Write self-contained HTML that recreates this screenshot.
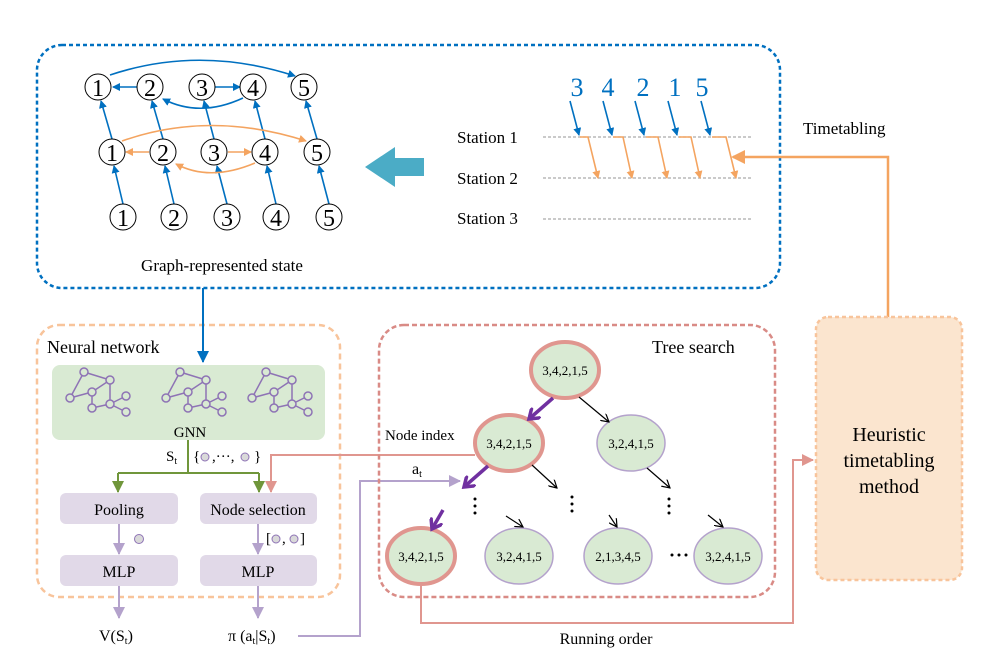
<!DOCTYPE html>
<html><head><meta charset="utf-8"><style>html,body{margin:0;padding:0;background:#fff}svg{display:block}</style></head>
<body>
<svg width="996" height="663" viewBox="0 0 996 663" xmlns="http://www.w3.org/2000/svg" font-family="Liberation Serif, serif">
<defs>
<marker id="ab" markerWidth="8" markerHeight="8" refX="7" refY="4" orient="auto" markerUnits="userSpaceOnUse"><path d="M0,0 L8,4 L0,8 z" fill="#0070c0"/></marker>
<marker id="ao" markerWidth="8" markerHeight="8" refX="7" refY="4" orient="auto" markerUnits="userSpaceOnUse"><path d="M0,0 L8,4 L0,8 z" fill="#f4a460"/></marker>
<marker id="aob" markerWidth="14" markerHeight="14" refX="12" refY="7" orient="auto" markerUnits="userSpaceOnUse"><path d="M0,0 L14,7 L0,14 z" fill="#f4a460"/></marker>
<marker id="ag" markerWidth="12" markerHeight="12" refX="11" refY="6" orient="auto" markerUnits="userSpaceOnUse"><path d="M0,0 L12,6 L0,12 z" fill="#70963b"/></marker>
<marker id="ap" markerWidth="12" markerHeight="12" refX="11" refY="6" orient="auto" markerUnits="userSpaceOnUse"><path d="M0,0 L12,6 L0,12 z" fill="#b4a2cc"/></marker>
<marker id="ar" markerWidth="12" markerHeight="12" refX="11" refY="6" orient="auto" markerUnits="userSpaceOnUse"><path d="M0,0 L12,6 L0,12 z" fill="#e0968f"/></marker>
<marker id="abl" markerWidth="12" markerHeight="12" refX="11" refY="6" orient="auto" markerUnits="userSpaceOnUse"><path d="M0,0 L12,6 L0,12 z" fill="#0070c0"/></marker>
<marker id="ak" markerWidth="9" markerHeight="9" refX="8" refY="4.5" orient="auto" markerUnits="userSpaceOnUse"><path d="M0,0 L8,4.5 L0,9" fill="none" stroke="#000" stroke-width="1.2"/></marker>
<marker id="av" markerWidth="14" markerHeight="14" refX="10" refY="7" orient="auto" markerUnits="userSpaceOnUse"><path d="M0,0 L10,7 L0,14" fill="none" stroke="#7030a0" stroke-width="3.5"/></marker>
</defs>

<!-- top blue box -->
<rect x="37" y="45" width="743" height="243" rx="25" fill="none" stroke="#0070c0" stroke-width="2.5" stroke-dasharray="4,3"/>

<!-- graph edges -->
<g stroke="#0070c0" stroke-width="1.6" fill="none" marker-end="url(#ab)">
<path d="M110,75 Q200,45 295,76"/>
<line x1="137" y1="87" x2="113" y2="87"/>
<line x1="215" y1="87" x2="240" y2="87"/>
<path d="M243,98 Q200,118 163,99"/>
<line x1="123" y1="204" x2="114" y2="166"/>
<line x1="174" y1="204" x2="165" y2="166"/>
<line x1="227" y1="204" x2="217" y2="166"/>
<line x1="276" y1="204" x2="267" y2="166"/>
<line x1="329" y1="204" x2="319" y2="166"/>
<line x1="112" y1="139" x2="101" y2="101"/>
<line x1="163" y1="139" x2="152" y2="101"/>
<line x1="214" y1="139" x2="204" y2="101"/>
<line x1="265" y1="139" x2="255" y2="101"/>
<line x1="317" y1="139" x2="306" y2="101"/>
</g>
<g stroke="#f4a460" stroke-width="1.6" fill="none" marker-end="url(#ao)">
<path d="M122,141 Q210,110 306,141"/>
<line x1="149" y1="152" x2="126" y2="152"/>
<line x1="228" y1="152" x2="251" y2="152"/>
<path d="M255,163 Q210,182 176,164"/>
</g>
<g fill="#fff" stroke="#000" stroke-width="1">
<circle cx="98" cy="87" r="13"/><circle cx="150" cy="87" r="13"/><circle cx="202" cy="87" r="13"/><circle cx="253" cy="87" r="13"/><circle cx="304" cy="87" r="13"/>
<circle cx="112" cy="152" r="13"/><circle cx="163" cy="152" r="13"/><circle cx="214" cy="152" r="13"/><circle cx="265" cy="152" r="13"/><circle cx="317" cy="152" r="13"/>
<circle cx="123" cy="217" r="13"/><circle cx="174" cy="217" r="13"/><circle cx="227" cy="217" r="13"/><circle cx="276" cy="217" r="13"/><circle cx="329" cy="217" r="13"/>
</g>
<g font-size="24" text-anchor="middle">
<text x="98" y="96">1</text><text x="150" y="96">2</text><text x="202" y="96">3</text><text x="253" y="96">4</text><text x="304" y="96">5</text>
<text x="112" y="161">1</text><text x="163" y="161">2</text><text x="214" y="161">3</text><text x="265" y="161">4</text><text x="317" y="161">5</text>
<text x="123" y="226">1</text><text x="174" y="226">2</text><text x="227" y="226">3</text><text x="276" y="226">4</text><text x="329" y="226">5</text>
</g>
<text x="222" y="271" font-size="17" text-anchor="middle">Graph-represented state</text>

<!-- cyan arrow -->
<path d="M365,167 L395,147 L395,158 L424,158 L424,176 L395,176 L395,187 z" fill="#4bacc6"/>

<!-- timetable -->
<g font-size="26" fill="#0070c0" text-anchor="middle">
<text x="577" y="96">3</text><text x="608" y="96">4</text><text x="643" y="96">2</text><text x="675" y="96">1</text><text x="702" y="96">5</text>
</g>
<g font-size="17">
<text x="457" y="143">Station 1</text><text x="457" y="184">Station 2</text><text x="457" y="224">Station 3</text>
</g>
<g stroke="#aaa" stroke-width="1.3" stroke-dasharray="3,2">
<line x1="543" y1="137" x2="752" y2="137"/><line x1="543" y1="178" x2="752" y2="178"/><line x1="543" y1="219" x2="752" y2="219"/>
</g>
<g stroke="#0070c0" stroke-width="1.6" marker-end="url(#ab)">
<line x1="570" y1="101" x2="579" y2="135"/><line x1="603" y1="101" x2="612" y2="135"/><line x1="635" y1="101" x2="644" y2="135"/><line x1="668" y1="101" x2="677" y2="135"/><line x1="701" y1="101" x2="710" y2="135"/>
</g>
<g stroke="#f4a460" stroke-width="1.6" fill="none" marker-end="url(#ao)">
<path d="M580,137 L588,137 L598,178"/><path d="M613,137 L623,137 L632,178"/><path d="M646,137 L658,137 L667,178"/><path d="M679,137 L691,137 L700,178"/><path d="M712,137 L726,137 L736,178"/>
</g>
<text x="803" y="134" font-size="17">Timetabling</text>
<polyline points="888,323 888,157 733,157" fill="none" stroke="#f4a460" stroke-width="2.5" marker-end="url(#aob)"/>

<!-- heuristic box -->
<rect x="816" y="317" width="146" height="263" rx="12" fill="#fbe5cf" stroke="#f8c49b" stroke-width="2.5" stroke-dasharray="4,3"/>
<g font-size="20" text-anchor="middle"><text x="889" y="441">Heuristic</text><text x="889" y="467">timetabling</text><text x="889" y="493">method</text></g>

<!-- neural network -->
<rect x="37" y="325" width="303" height="272" rx="22" fill="none" stroke="#f8c49b" stroke-width="2.5" stroke-dasharray="6,4"/>
<text x="47" y="353" font-size="18">Neural network</text>
<rect x="52" y="365" width="273" height="75" rx="8" fill="#d9ead3"/>
<line x1="203" y1="288" x2="203" y2="362" stroke="#0070c0" stroke-width="2" marker-end="url(#abl)"/>
<g stroke="#8e73b5" stroke-width="1.5" fill="#d9ead3">
<g id="g1">
<line x1="84" y1="372" x2="110" y2="380"/><line x1="84" y1="372" x2="70" y2="398"/><line x1="70" y1="398" x2="92" y2="392"/><line x1="92" y1="392" x2="110" y2="380"/><line x1="110" y1="380" x2="110" y2="404"/><line x1="92" y1="392" x2="92" y2="408"/><line x1="92" y1="408" x2="110" y2="404"/><line x1="110" y1="404" x2="126" y2="396"/><line x1="110" y1="404" x2="126" y2="412"/>
<circle cx="84" cy="372" r="4"/><circle cx="110" cy="380" r="4"/><circle cx="70" cy="398" r="4"/><circle cx="92" cy="392" r="4"/><circle cx="110" cy="404" r="4"/><circle cx="92" cy="408" r="4"/><circle cx="126" cy="396" r="4"/><circle cx="126" cy="412" r="4"/>
</g>
<use href="#g1" x="96"/><use href="#g1" x="182"/>
</g>
<text x="190" y="437" font-size="15" text-anchor="middle">GNN</text>
<g stroke="#70963b" stroke-width="2" fill="none">
<line x1="188" y1="440" x2="188" y2="473"/><line x1="118" y1="473" x2="259" y2="473"/>
<line x1="118" y1="473" x2="118" y2="492" marker-end="url(#ag)"/><line x1="259" y1="473" x2="259" y2="492" marker-end="url(#ag)"/>
</g>
<text x="166" y="461" font-size="15">S<tspan font-size="10" dy="3">t</tspan></text>
<text x="193" y="461" font-size="15">{</text><circle cx="205" cy="457" r="4" fill="#d9d9d9" stroke="#8e73b5"/><text x="212" y="461" font-size="15">,···,</text><circle cx="245" cy="457" r="4" fill="#d9d9d9" stroke="#8e73b5"/><text x="254" y="461" font-size="15">}</text>
<polyline points="475,455 271,455 271,492" fill="none" stroke="#e0968f" stroke-width="2" marker-end="url(#ar)"/>
<rect x="60" y="493" width="118" height="31" rx="6" fill="#e1d9e8"/>
<rect x="200" y="493" width="117" height="31" rx="6" fill="#e1d9e8"/>
<rect x="60" y="555" width="118" height="31" rx="6" fill="#e1d9e8"/>
<rect x="200" y="555" width="117" height="31" rx="6" fill="#e1d9e8"/>
<g font-size="16" text-anchor="middle"><text x="119" y="515">Pooling</text><text x="258" y="515">Node selection</text><text x="119" y="577">MLP</text><text x="258" y="577">MLP</text></g>
<g stroke="#b4a2cc" stroke-width="2" marker-end="url(#ap)">
<line x1="119" y1="524" x2="119" y2="554"/><line x1="258" y1="524" x2="258" y2="554"/>
<line x1="119" y1="586" x2="119" y2="618"/><line x1="258" y1="586" x2="258" y2="618"/>
</g>
<circle cx="139" cy="539" r="4.5" fill="#d9d9d9" stroke="#8e73b5"/>
<text x="266" y="543" font-size="15">[</text><circle cx="276" cy="539" r="4" fill="#d9d9d9" stroke="#8e73b5"/><text x="282" y="543" font-size="15">,</text><circle cx="294" cy="539" r="4" fill="#d9d9d9" stroke="#8e73b5"/><text x="300" y="543" font-size="15">]</text>
<text x="99" y="641" font-size="16">V(S<tspan font-size="10" dy="3">t</tspan><tspan dy="-3">)</tspan></text>
<text x="228" y="641" font-size="16">π (a<tspan font-size="10" dy="3">t</tspan><tspan dy="-3">|S</tspan><tspan font-size="10" dy="3">t</tspan><tspan dy="-3">)</tspan></text>
<polyline points="298,636 360,636 360,481 460,481" fill="none" stroke="#b4a2cc" stroke-width="2" marker-end="url(#ap)"/>

<!-- tree search -->
<rect x="379" y="325" width="396" height="272" rx="25" fill="none" stroke="#d98b86" stroke-width="2.5" stroke-dasharray="5,3"/>
<text x="652" y="353" font-size="18">Tree search</text>
<g fill="#d9ead3">
<ellipse cx="565" cy="370" rx="34" ry="28" stroke="#e0968f" stroke-width="4"/>
<ellipse cx="509" cy="443" rx="34" ry="28" stroke="#e0968f" stroke-width="4"/>
<ellipse cx="631" cy="443" rx="34" ry="28" stroke="#b4a2cc" stroke-width="1.5"/>
<ellipse cx="421" cy="556" rx="34" ry="28" stroke="#e0968f" stroke-width="4"/>
<ellipse cx="519" cy="556" rx="34" ry="28" stroke="#b4a2cc" stroke-width="1.5"/>
<ellipse cx="618" cy="556" rx="34" ry="28" stroke="#b4a2cc" stroke-width="1.5"/>
<ellipse cx="728" cy="556" rx="34" ry="28" stroke="#b4a2cc" stroke-width="1.5"/>
</g>
<g font-size="13" text-anchor="middle">
<text x="565" y="375">3,4,2,1,5</text><text x="509" y="448">3,4,2,1,5</text><text x="631" y="448">3,2,4,1,5</text>
<text x="421" y="561">3,4,2,1,5</text><text x="519" y="561">3,2,4,1,5</text><text x="618" y="561">2,1,3,4,5</text><text x="728" y="561">3,2,4,1,5</text>
</g>
<text x="385" y="440" font-size="15">Node index</text>
<text x="412" y="474" font-size="16">a<tspan font-size="10" dy="3">t</tspan></text>
<g stroke="#7030a0" stroke-width="3.5" marker-end="url(#av)">
<line x1="553" y1="398" x2="529" y2="419"/><line x1="488" y1="466" x2="464" y2="487"/><line x1="443" y1="510" x2="432" y2="529"/>
</g>
<g stroke="#000" stroke-width="1.2" marker-end="url(#ak)">
<line x1="579" y1="397" x2="609" y2="422"/><line x1="532" y1="465" x2="557" y2="488"/><line x1="647" y1="468" x2="670" y2="488"/>
<line x1="506" y1="516" x2="523" y2="527"/><line x1="609" y1="515" x2="617" y2="527"/><line x1="708" y1="515" x2="723" y2="527"/>
</g>
<g fill="#000">
<circle cx="475" cy="499" r="1.5"/><circle cx="475" cy="506" r="1.5"/><circle cx="475" cy="513" r="1.5"/>
<circle cx="572" cy="497" r="1.5"/><circle cx="572" cy="504" r="1.5"/><circle cx="572" cy="511" r="1.5"/>
<circle cx="669" cy="499" r="1.5"/><circle cx="669" cy="506" r="1.5"/><circle cx="669" cy="513" r="1.5"/>
<circle cx="672" cy="555" r="1.5"/><circle cx="679" cy="555" r="1.5"/><circle cx="686" cy="555" r="1.5"/>
</g>
<polyline points="421,584 421,623 793,623 793,460 813,460" fill="none" stroke="#e0968f" stroke-width="2" marker-end="url(#ar)"/>
<text x="606" y="644" font-size="16" text-anchor="middle">Running order</text>
</svg>
</body></html>
